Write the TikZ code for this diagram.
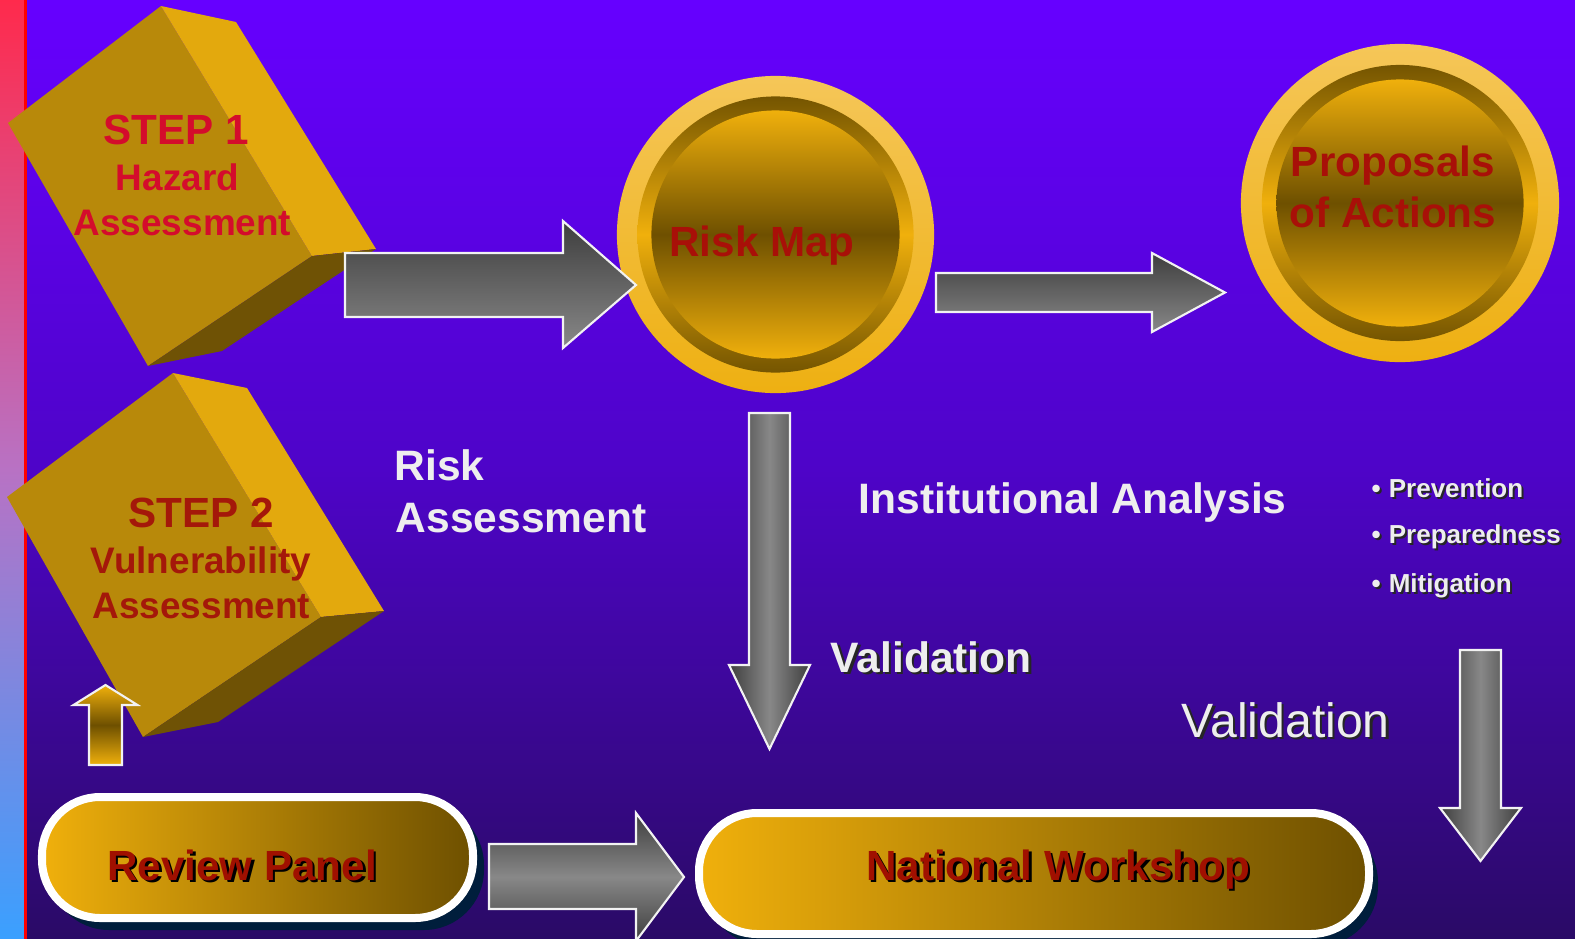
\documentclass[tikz,border=0pt]{standalone}
\usepackage{fontspec}
\setmainfont{Liberation Sans}
\definecolor{bgtop}{HTML}{6600FF}
\definecolor{bgmid}{HTML}{4E04C8}
\definecolor{bgbot}{HTML}{2A0A66}
\definecolor{stripetop}{HTML}{FF2A4C}
\definecolor{stripemid}{HTML}{B872C4}
\definecolor{stripebot}{HTML}{3AA0FF}
\definecolor{cubefront}{HTML}{B8890A}
\definecolor{cubeside}{HTML}{E3A90D}
\definecolor{cubebottom}{HTML}{6F5205}
\definecolor{goldlight}{HTML}{F0B00C}
\definecolor{golddark}{HTML}{6E5000}
\definecolor{ringlight}{HTML}{F5C658}
\definecolor{ringgold}{HTML}{EEB012}
\definecolor{arrowdark}{HTML}{3E3E3E}
\definecolor{arrowlight}{HTML}{888888}
\definecolor{steponered}{HTML}{D40C2C}
\definecolor{steptwored}{HTML}{A4180A}
\definecolor{labelred}{HTML}{A81008}
\definecolor{pillred}{HTML}{A01000}
\definecolor{shadownavy}{HTML}{001E3C}
\definecolor{textwhite}{HTML}{EEEEEE}

\begin{document}
\begin{tikzpicture}[x=0.01cm,y=-0.01cm]
  \tikzset{CubeFront/.style={fill=cubefront},
    CubeSide/.style={fill=cubeside},
    CubeBottom/.style={fill=cubebottom},
    StepTitle/.style={font=\bfseries\fontsize{12}{14}\selectfont,anchor=base,inner sep=0pt},
    StepLine/.style={font=\bfseries\fontsize{10.5}{12}\selectfont,anchor=base,inner sep=0pt},
    GrayArrowH/.style={top color=arrowdark,bottom color=arrowlight,draw=white!90!gray,line width=0.6pt},
    GrayArrowMid/.style={top color=arrowdark,bottom color=arrowdark,middle color=arrowlight,draw=white!90!gray,line width=0.6pt},
    GrayArrowV/.style={left color=arrowdark,right color=arrowdark,middle color=arrowlight,draw=white!90!gray,line width=0.6pt},
    GoldArrow/.style={top color=goldlight,bottom color=goldlight,middle color=golddark,draw=white!90!gray,line width=0.6pt},
    OuterRing/.style={circle,inner sep=0pt,top color=ringlight,bottom color=ringgold},
    DarkRing/.style={circle,inner sep=0pt,top color=golddark!95!goldlight,bottom color=golddark!95!goldlight,middle color=goldlight},
    InnerDisk/.style={circle,inner sep=0pt,top color=goldlight,bottom color=goldlight,middle color=golddark},
    CircleText/.style={text=labelred,font=\bfseries\fontsize{12}{14}\selectfont,anchor=base,inner sep=0pt},
    Pill/.style={left color=goldlight,right color=golddark,draw=white,line width=0.08cm,rounded corners=0.58cm},
    PillShadow/.style={fill=shadownavy,rounded corners=0.6cm},
    PillText/.style={text=pillred,font=\bfseries\fontsize{12}{14}\selectfont,anchor=base,inner sep=0pt},
    PillTextShadow/.style={PillText,text=black},
    WhiteText/.style={text=textwhite,font=\bfseries\fontsize{12.1}{14}\selectfont,anchor=base west,inner sep=0pt},
    ShadowText/.style={WhiteText,text=black!85},
    BulletText/.style={WhiteText,font=\bfseries\fontsize{7.4}{9}\selectfont}
  }
  \useasboundingbox (0,0) rectangle (1575,939);
  \clip (0,0) rectangle (1575,939);
  % background and side stripe
  \shade[top color=bgtop,bottom color=bgbot,middle color=bgmid] (0,0) rectangle (1575,939);
  \shade[top color=stripetop,bottom color=stripebot,middle color=stripemid] (0,0) rectangle (24,939);
  \fill[red] (24,0) rectangle (27,939);

  % step 1 cube
  \fill[CubeFront] (161,6) -- (8,123) -- (148,366) -- (312,256) -- cycle;
  \fill[CubeSide] (161,6) -- (236,22) -- (376,249) -- (312,256) -- cycle;
  \fill[CubeBottom] (312,256) -- (376,249) -- (222,351) -- (148,366) -- cycle;
  \node[StepTitle,text=steponered] (stepone) at (176,144) {STEP 1};
  \node[StepLine,text=steponered] (steponea) at (177.5,190) {Hazard};
  \node[StepLine,text=steponered] (steponeb) at (182.5,235) {Assessment};

  % step 2 cube
  \fill[CubeFront] (173,373) -- (7,497) -- (143,737) -- (321,617) -- cycle;
  \fill[CubeSide] (173,373) -- (247,388) -- (384,611) -- (321,617) -- cycle;
  \fill[CubeBottom] (321,617) -- (384,611) -- (218,722) -- (143,737) -- cycle;
  \node[StepTitle,text=steptwored] (steptwo) at (201.5,527) {STEP 2};
  \node[StepLine,text=steptwored] (steptwoa) at (201,573) {Vulnerability};
  \node[StepLine,text=steptwored] (steptwob) at (201.5,618) {Assessment};

  % circles
  \node[OuterRing,minimum size=3.17cm] (riskmap) at (775.5,234.5) {};
  \node[DarkRing,minimum size=2.76cm] (riskmapring) at (riskmap) {};
  \node[InnerDisk,minimum size=2.48cm] (riskmapdisk) at (riskmap) {};
  \node[CircleText] (riskmaptxt) at (762,256) {Risk Map};
  \node[OuterRing,minimum size=3.18cm] (proposals) at (1400,203) {};
  \node[DarkRing,minimum size=2.76cm] (proposalsring) at (proposals) {};
  \node[InnerDisk,minimum size=2.47cm] (proposalsdisk) at (proposals) {};
  \node[CircleText] (proposalsa) at (1393,176) {Proposals};
  \node[CircleText] (proposalsb) at (1393,227) {of Actions};

  % block arrows
  \draw[GrayArrowH] (345,253) -- (563,253) -- (563,221) -- (636,285) -- (563,348) -- (563,317) -- (345,317) -- cycle;
  \draw[GrayArrowH] (936,273) -- (1152,273) -- (1152,253) -- (1225,292.5) -- (1152,332) -- (1152,312) -- (936,312) -- cycle;
  \draw[GrayArrowV] (749,413) -- (790,413) -- (790,665) -- (810,665) -- (769.5,749) -- (729,665) -- (749,665) -- cycle;
  \draw[GrayArrowV] (1460,650) -- (1501,650) -- (1501,808) -- (1521,808) -- (1480.5,861) -- (1440,808) -- (1460,808) -- cycle;
  \draw[GrayArrowMid] (489,844) -- (636,844) -- (636,813) -- (684,877) -- (636,941) -- (636,909) -- (489,909) -- cycle;
  \draw[GoldArrow] (89,765) -- (89,705) -- (73.5,705) -- (105.5,685) -- (137.5,705) -- (122,705) -- (122,765) -- cycle;

  % pills
  \fill[PillShadow] (49,805) rectangle (484,930);
  \draw[Pill] (42,797) rectangle (473,918);
  \node[PillTextShadow] (reviewshadow) at (244.5,882.5) {Review Panel};
  \node[PillText] (review) at (242,880) {Review Panel};
  \fill[PillShadow] (706,822) rectangle (1378,946);
  \draw[Pill] (699,813) rectangle (1369,934);
  \node[PillTextShadow] (workshopshadow) at (1060.5,882.5) {National Workshop};
  \node[PillText] (workshop) at (1058,880) {National Workshop};

  % labels
  \node[WhiteText] (risk) at (394,480) {Risk};
  \node[WhiteText] (assessment) at (395,532) {Assessment};
  \node[WhiteText] (institutional) at (858,513) {Institutional Analysis};
  \node[ShadowText] (validshadow) at (832.5,674.5) {Validation};
  \node[WhiteText] (valid) at (830,672) {Validation};
  \node[ShadowText,font=\fontsize{13.7}{16}\selectfont] (validbshadow) at (1183.5,739.5) {Validation};
  \node[WhiteText,font=\fontsize{13.7}{16}\selectfont] (validb) at (1181,737) {Validation};
  \foreach \y/\word [count=\i] in {497/Prevention,543/Preparedness,592/Mitigation}{
    \node[BulletText,text=black!85] (bulletshadow\i) at (1373,\y+2) {•\hspace{0.08cm}\word};
    \node[BulletText] (bullet\i) at (1371,\y) {•\hspace{0.08cm}\word};
  }
\end{tikzpicture}
\end{document}
